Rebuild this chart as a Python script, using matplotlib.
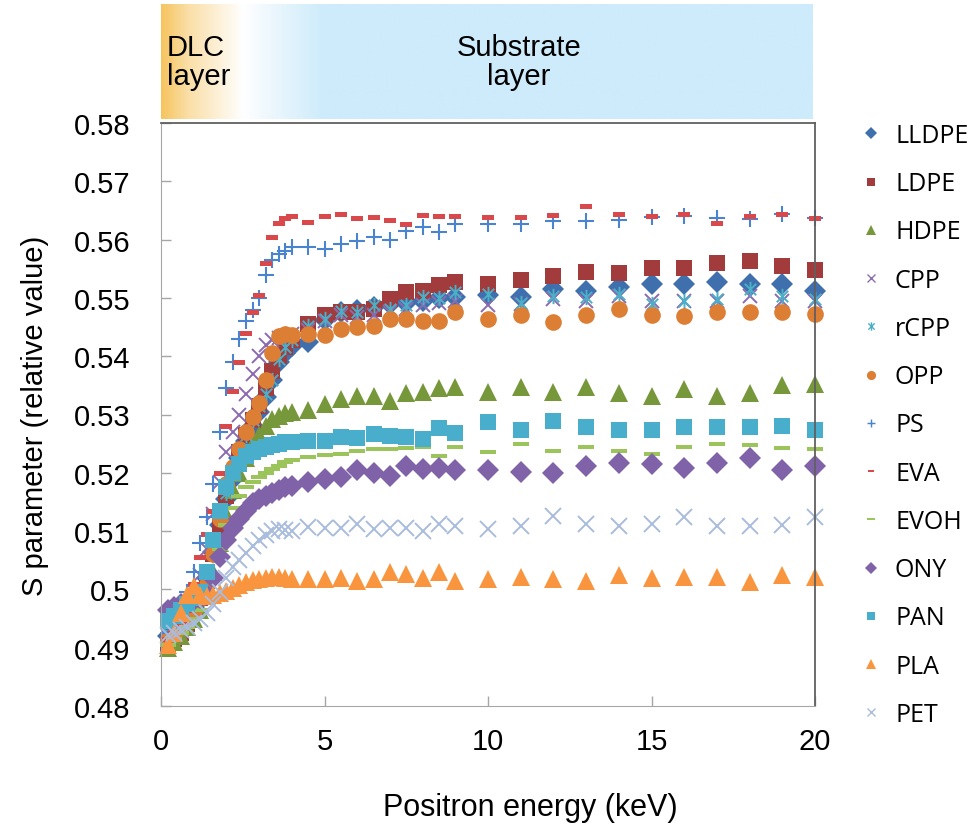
import numpy as np
import matplotlib
matplotlib.use('Agg')
import matplotlib.pyplot as plt
from matplotlib.path import Path
from matplotlib.lines import Line2D

# positron energies (keV)
energy = [0.2, 0.4, 0.6, 0.8, 1.0, 1.2, 1.4, 1.6, 1.8, 2.0,
          2.2, 2.4, 2.6, 2.8, 3.0, 3.2, 3.4, 3.6, 3.8, 4.0,
          4.5, 5.0, 5.5, 6.0, 6.5, 7.0, 7.5, 8.0, 8.5, 9.0,
          10, 11, 12, 13, 14, 15, 16, 17, 18, 19, 20]

lldpe = [0.4920, 0.4930, 0.4940, 0.4955, 0.4970, 0.4990, 0.5020, 0.5065, 0.5110, 0.5155,
         0.5190, 0.5225, 0.5255, 0.5280, 0.5305, 0.5330, 0.5360, 0.5390, 0.5405, 0.5418,
         0.5424, 0.5462, 0.5475, 0.5480, 0.5485, 0.5490, 0.5492, 0.5495, 0.5500, 0.5502,
         0.5505, 0.5501, 0.5515, 0.5512, 0.5518, 0.5524, 0.5524, 0.5528, 0.5524, 0.5524, 0.5512]
ldpe = [0.4905, 0.4915, 0.4925, 0.4940, 0.4960, 0.4985, 0.5015, 0.5060, 0.5110, 0.5160,
        0.5200, 0.5235, 0.5265, 0.5290, 0.5315, 0.5345, 0.5375, 0.5400, 0.5415, 0.5428,
        0.5455, 0.5470, 0.5475, 0.5475, 0.5481, 0.5498, 0.5510, 0.5512, 0.5522, 0.5528,
        0.5524, 0.5530, 0.5538, 0.5545, 0.5542, 0.5551, 0.5552, 0.5560, 0.5564, 0.5555, 0.5548]
hdpe = [0.4900, 0.4910, 0.4920, 0.4935, 0.4950, 0.4965, 0.4990, 0.5030, 0.5080, 0.5130,
        0.5170, 0.5200, 0.5225, 0.5250, 0.5265, 0.5280, 0.5292, 0.5298, 0.5302, 0.5305,
        0.5307, 0.5318, 0.5327, 0.5332, 0.5332, 0.5324, 0.5337, 0.5339, 0.5345, 0.5347,
        0.5338, 0.5347, 0.5338, 0.5348, 0.5337, 0.5332, 0.5344, 0.5331, 0.5337, 0.5351, 0.5352]
cpp = [0.4920, 0.4930, 0.4945, 0.4965, 0.4990, 0.5025, 0.5070, 0.5130, 0.5185, 0.5235,
       0.5270, 0.5300, 0.5335, 0.5370, 0.5400, 0.5420, 0.5428, 0.5432, 0.5435, 0.5438,
       0.5445, 0.5460, 0.5470, 0.5467, 0.5470, 0.5475, 0.5481, 0.5487, 0.5492, 0.5495,
       0.5487, 0.5490, 0.5498, 0.5495, 0.5504, 0.5495, 0.5495, 0.5495, 0.5504, 0.5495, 0.5495]
rcpp = [0.4925, 0.4935, 0.4945, 0.4960, 0.4975, 0.4995, 0.5025, 0.5075, 0.5120, 0.5165,
        0.5200, 0.5235, 0.5265, 0.5290, 0.5315, 0.5335, 0.5360, 0.5395, 0.5415, 0.5428,
        0.5452, 0.5464, 0.5478, 0.5475, 0.5487, 0.5481, 0.5487, 0.5501, 0.5500, 0.5510,
        0.5507, 0.5492, 0.5504, 0.5501, 0.5507, 0.5490, 0.5495, 0.5498, 0.5515, 0.5504, 0.5498]
opp = [0.4915, 0.4925, 0.4935, 0.4950, 0.4965, 0.4985, 0.5010, 0.5060, 0.5120, 0.5180,
       0.5210, 0.5240, 0.5270, 0.5295, 0.5320, 0.5360, 0.5405, 0.5435, 0.5438, 0.5437,
       0.5438, 0.5437, 0.5447, 0.5450, 0.5452, 0.5463, 0.5463, 0.5461, 0.5461, 0.5476,
       0.5464, 0.5471, 0.5459, 0.5470, 0.5481, 0.5471, 0.5469, 0.5476, 0.5475, 0.5476, 0.5472]
ps = [0.4925, 0.4935, 0.4955, 0.4995, 0.5030, 0.5080, 0.5125, 0.5180, 0.5270, 0.5345,
      0.5390, 0.5430, 0.5460, 0.5480, 0.5500, 0.5540, 0.5565, 0.5575, 0.5580, 0.5587,
      0.5587, 0.5584, 0.5593, 0.5597, 0.5604, 0.5600, 0.5614, 0.5621, 0.5613, 0.5626,
      0.5627, 0.5626, 0.5632, 0.5632, 0.5633, 0.5639, 0.5641, 0.5637, 0.5636, 0.5644, 0.5637]
eva = [0.4915, 0.4925, 0.4940, 0.4965, 0.5010, 0.5055, 0.5095, 0.5135, 0.5200, 0.5280,
       0.5340, 0.5390, 0.5440, 0.5475, 0.5505, 0.5560, 0.5605, 0.5628, 0.5637, 0.5640,
       0.5630, 0.5640, 0.5644, 0.5637, 0.5638, 0.5634, 0.5627, 0.5642, 0.5640, 0.5641,
       0.5638, 0.5639, 0.5643, 0.5658, 0.5644, 0.5641, 0.5644, 0.5628, 0.5641, 0.5644, 0.5637]
evoh = [0.4905, 0.4915, 0.4925, 0.4935, 0.4950, 0.4965, 0.4985, 0.5020, 0.5070, 0.5110,
        0.5140, 0.5160, 0.5175, 0.5185, 0.5192, 0.5200, 0.5206, 0.5212, 0.5218, 0.5222,
        0.5227, 0.5230, 0.5232, 0.5238, 0.5240, 0.5241, 0.5242, 0.5244, 0.5228, 0.5245,
        0.5236, 0.5249, 0.5238, 0.5244, 0.5238, 0.5232, 0.5245, 0.5249, 0.5248, 0.5243, 0.5241]
ony = [0.4965, 0.4970, 0.4975, 0.4978, 0.4982, 0.4985, 0.4990, 0.5020, 0.5055, 0.5085,
       0.5105, 0.5120, 0.5135, 0.5148, 0.5155, 0.5160, 0.5165, 0.5170, 0.5175, 0.5177,
       0.5184, 0.5190, 0.5192, 0.5205, 0.5200, 0.5195, 0.5211, 0.5206, 0.5209, 0.5205,
       0.5205, 0.5202, 0.5199, 0.5211, 0.5217, 0.5215, 0.5208, 0.5216, 0.5225, 0.5204, 0.5212]
pan = [0.4945, 0.4955, 0.4965, 0.4975, 0.4985, 0.4995, 0.5030, 0.5085, 0.5135, 0.5175,
       0.5200, 0.5215, 0.5228, 0.5236, 0.5241, 0.5245, 0.5248, 0.5250, 0.5252, 0.5252,
       0.5255, 0.5255, 0.5261, 0.5259, 0.5267, 0.5263, 0.5261, 0.5258, 0.5276, 0.5268,
       0.5287, 0.5274, 0.5288, 0.5278, 0.5274, 0.5274, 0.5278, 0.5278, 0.5278, 0.5280, 0.5274]
pla = [0.4905, 0.4925, 0.4960, 0.4990, 0.5005, 0.4990, 0.4988, 0.4990, 0.4993, 0.4997,
       0.5002, 0.5008, 0.5013, 0.5016, 0.5018, 0.5020, 0.5021, 0.5022, 0.5020, 0.5018,
       0.5018, 0.5018, 0.5020, 0.5014, 0.5018, 0.5029, 0.5026, 0.5020, 0.5029, 0.5014,
       0.5018, 0.5022, 0.5017, 0.5014, 0.5025, 0.5019, 0.5021, 0.5021, 0.5013, 0.5025, 0.5022]
pet = [0.4922, 0.4925, 0.4930, 0.4935, 0.4942, 0.4950, 0.4960, 0.4975, 0.4995, 0.5020,
       0.5038, 0.5050, 0.5062, 0.5075, 0.5085, 0.5093, 0.5100, 0.5104, 0.5102, 0.5101,
       0.5107, 0.5105, 0.5105, 0.5112, 0.5104, 0.5105, 0.5106, 0.5101, 0.5112, 0.5109,
       0.5104, 0.5109, 0.5126, 0.5112, 0.5109, 0.5112, 0.5125, 0.5108, 0.5108, 0.5110, 0.5125]

names = ['LLDPE', 'LDPE', 'HDPE', 'CPP', 'rCPP', 'OPP', 'PS', 'EVA', 'EVOH',
         'ONY', 'PAN', 'PLA', 'PET']
series = [lldpe, ldpe, hdpe, cpp, rcpp, opp, ps, eva, evoh, ony, pan, pla, pet]

yticks = [0.48, 0.49, 0.50, 0.51, 0.52, 0.53, 0.54, 0.55, 0.56, 0.57, 0.58]
ytick_labels = ['0.48', '0.49', '0.5', '0.51', '0.52', '0.53', '0.54', '0.55',
                '0.56', '0.57', '0.58']
xticks = [0, 5, 10, 15, 20]

# custom marker shapes
dash_eva = Path([(-1, -0.4), (1, -0.4), (1, 0.4), (-1, 0.4), (-1, -0.4)])
dash_evoh = Path([(-1, -0.28), (1, -0.28), (1, 0.28), (-1, 0.28), (-1, -0.28)])
asterisk = Path([(0, -1), (0, 1), (-0.75, -0.75), (0.75, 0.75), (-0.75, 0.75), (0.75, -0.75)],
                [Path.MOVETO, Path.LINETO, Path.MOVETO, Path.LINETO, Path.MOVETO, Path.LINETO])

# (marker, colour, size, filled, edge width)
styles = [
    ('D', '#3F6FAD', 11.0, True, 0),
    ('s', '#A23B3B', 11.5, True, 0),
    ('^', '#77983A', 12.5, True, 0),
    ('x', '#8A6BB0', 10.0, False, 1.4),
    (asterisk, '#4BAFC8', 11.0, False, 1.4),
    ('o', '#DC7E34', 12.0, True, 0),
    ('+', '#4A84D0', 11.5, False, 1.5),
    (dash_eva, '#D9484A', 9.0, True, 0),
    (dash_evoh, '#9BC55A', 11.0, True, 0),
    ('D', '#8062A8', 11.0, True, 0),
    ('s', '#48AECB', 11.5, True, 0),
    ('^', '#F8953E', 12.5, True, 0),
    ('x', '#A9BCDD', 11.0, False, 1.4),
]

plt.rcParams['font.family'] = ['Liberation Sans', 'DejaVu Sans']

fig = plt.figure(figsize=(9.76, 8.28), dpi=100)
W, H = 976, 828
ax = fig.add_axes([161 / W, 1 - 707 / H, (815 - 161) / W, (707 - 124) / H])

for name, vals, (mk, col, ms, filled, ew) in zip(names, series, styles):
    if filled:
        ax.plot(energy, vals, linestyle='none', marker=mk, markersize=ms,
                markerfacecolor=col, markeredgewidth=0, clip_on=False)
    else:
        ax.plot(energy, vals, linestyle='none', marker=mk, markersize=ms,
                markerfacecolor='none', markeredgecolor=col,
                markeredgewidth=ew, clip_on=False)

ax.set_xlim(0, 20)
ax.set_ylim(0.48, 0.58)
ax.set_xticks(xticks)
ax.set_xticklabels([str(t) for t in xticks])
ax.set_yticks(yticks)
ax.set_yticklabels(ytick_labels)
ax.tick_params(direction='in', length=7, width=1, color='#A6A6A6')
ax.tick_params(axis='y', labelsize=21, pad=22)
ax.tick_params(axis='x', labelsize=21, pad=15)
for s in ['left', 'bottom']:
    ax.spines[s].set_color('#A6A6A6')
for s in ['top', 'right']:
    ax.spines[s].set_color('#606060')
    ax.spines[s].set_linewidth(1.3)

fig.text(530 / W, 1 - 808 / H, 'Positron energy (keV)', fontsize=22,
         ha='center', va='center')
fig.text(35 / W, 1 - 416 / H, 'S parameter (relative value)', fontsize=21,
         rotation=90, ha='center', va='center')

# layer banner with gradient
bx = fig.add_axes([161 / W, 1 - 120 / H, (812 - 161) / W, (120 - 5) / H])
xs = np.linspace(0, 20, 600)
stops = [0, 0.8, 2.5, 3.4, 5.0, 20]
reds = [246, 250, 255, 236, 205, 205]
greens = [196, 222, 255, 247, 235, 235]
blues = [94, 165, 255, 253, 251, 251]
grad = np.stack([np.interp(xs, stops, reds), np.interp(xs, stops, greens),
                 np.interp(xs, stops, blues)], axis=-1)[None, :, :] / 255.0
bx.imshow(grad, aspect='auto', extent=[0, 20, 0, 1])
bx.set_xlim(0, 20)
bx.set_ylim(0, 1)
bx.axis('off')
bx.text(0.17, 0.5, 'DLC\nlayer', fontsize=21, ha='left', va='center', linespacing=1.05)
bx.text(11.0, 0.5, 'Substrate\nlayer', fontsize=21, ha='center', va='center',
        linespacing=1.05)

leg_handles = []
for name, (mk, col, ms, filled, ew) in zip(names, styles):
    if filled:
        h = Line2D([], [], linestyle='none', marker=mk, markersize=ms * 0.55,
                   markerfacecolor=col, markeredgewidth=0)
    else:
        h = Line2D([], [], linestyle='none', marker=mk, markersize=ms * 0.55,
                   markerfacecolor='none', markeredgecolor=col, markeredgewidth=ew * 0.7)
    leg_handles.append(h)

fig.legend(leg_handles, names, loc='upper left', bbox_to_anchor=(850 / W, 1 - 114 / H),
           frameon=False, prop={'family': 'Open Sans', 'size': 18},
           labelspacing=0.93, handlelength=0.9, handletextpad=0.5, borderaxespad=0)

fig.savefig('out.png', dpi=100)
